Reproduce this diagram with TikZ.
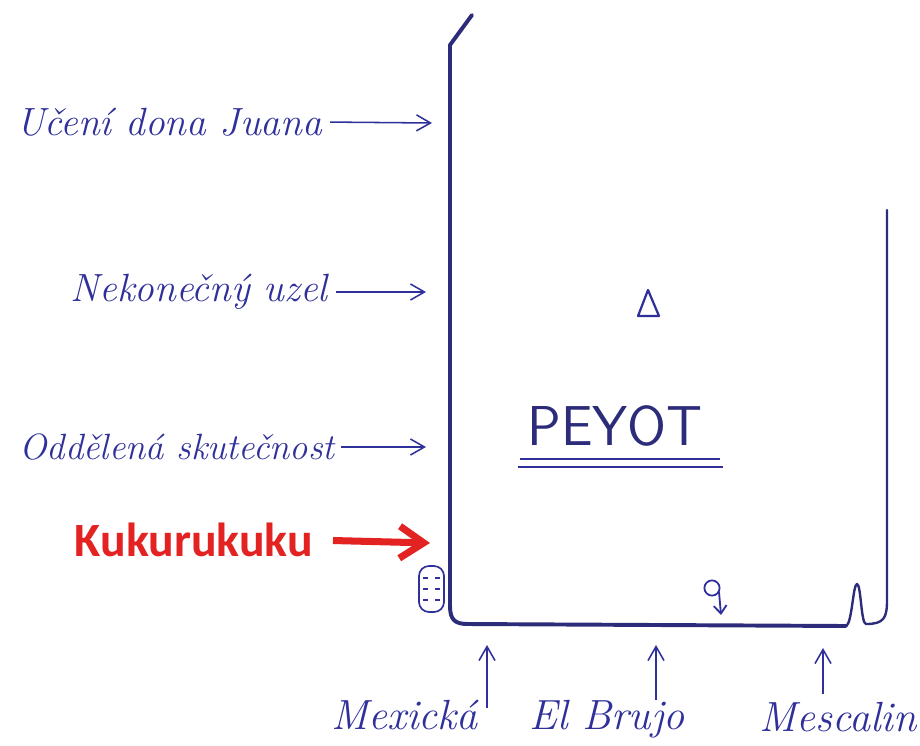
\documentclass[tikz,border=0pt]{standalone}
\usepackage{fontspec}
\usepackage{tikz}
\usetikzlibrary{arrows.meta,positioning}
\newfontfamily\calib{Carlito}
\definecolor{ink}{HTML}{30309A}
\definecolor{wallink}{HTML}{2C2C7A}
\definecolor{alarm}{HTML}{E32322}

\begin{document}
\begin{tikzpicture}[x=0.25mm, y=-0.25mm,
    hand/.style={font=\itshape\fontsize{28}{32}\selectfont, text=ink, inner sep=0pt},
    low/.style={hand, font=\itshape\fontsize{30}{34}\selectfont},
    flow/.style={-{Straight Barb[length=3.5mm,width=4mm]}, ink, line width=1.1pt},
    wall/.style={wallink, line width=2.8pt, line cap=round, line join=round}]
  \useasboundingbox (0,0) rectangle (920,745);
  % nadoba
  \draw[wall] (472,15) -- (450,45) -- (450,606) .. controls (450,620) and (455,624) .. (468,624) -- (846,626);
  \draw[wallink, line width=1.7pt, line cap=round, line join=round] (846,626)
    .. controls (852,624) and (853,584) .. (857,584)
    .. controls (861,584) and (861,624) .. (866,624)
    .. controls (884,624) and (887,618) .. (887,600) -- (887,210);
  % znaky uvnitr
  \draw[ink, line width=1.6pt, line join=round] (638,316) -- (648,290) -- (659,316) -- cycle;
  \node[font=\sffamily\fontsize{40}{44}\selectfont, text=wallink, inner sep=0pt] (peyot) at (615,426) {PEYOT};
  \draw[ink, line width=1.3pt] (520,459) -- (720,459);
  \draw[ink, line width=1.3pt] (518,467) -- (723,467);
  \draw[ink, line width=1.3pt] (712,588) circle[radius=1.9mm];
  \draw[ink, line width=1.3pt, -{Straight Barb[length=2mm,width=3.2mm]}] (719,592) -- (721,615);
  \draw[ink, line width=1.2pt, rounded corners=2.5mm] (419,566) rectangle (444,612);
  \foreach \yy in {578,589,600} {
    \draw[ink, line width=0.9pt] (423,\yy) -- (428,\yy);
    \draw[ink, line width=0.9pt] (435,\yy) -- (440,\yy);
  }
  % popisky vlevo
  \node[hand, anchor=east] (ucen) at (322,122) {Učení dona Juana};
  \node[hand, anchor=east] (uzel) at (328,292) {Nekonečný uzel};
  \node[hand, anchor=east, font=\itshape\fontsize{26}{30}\selectfont] (odd) at (335,447) {Oddělená skutečnost};
  \node[anchor=east, inner sep=0pt, text=alarm, font=\calib\bfseries\fontsize{34}{40}\selectfont] (kuku) at (313,540) {Kukurukuku};
  \coordinate (w1) at (432,123);
  \coordinate (w2) at (426,292);
  \coordinate (w3) at (426,447);
  \coordinate (w4) at (430,543);
  \draw[flow, shorten <=2mm] (ucen.east) -- (w1);
  \draw[flow, shorten <=2mm] (uzel.east) -- (w2);
  \draw[flow, shorten <=1.5mm] (odd.east) -- (w3);
  \draw[-{Straight Barb[length=6mm,width=8mm]}, alarm, line width=5pt, shorten <=5mm] (kuku.east) -- (w4);
  % popisky dole
  \node[low, anchor=north east] (mex) at (478,700) {Mexická};
  \node[low, anchor=north] (brujo) at (607,700) {El Brujo};
  \node[low, anchor=north] (mesc) at (838,702) {Mescalin};
  \coordinate (b1) at (487,645);
  \coordinate (b2) at (656,645);
  \coordinate (b3) at (823,648);
  \draw[flow, shorten <=-2mm] (b1 |- mex.north) -- (b1);
  \draw[flow] (b2 |- brujo.north) -- (b2);
  \draw[flow, shorten <=2mm] (b3 |- mesc.north) -- (b3);
\end{tikzpicture}
\end{document}
